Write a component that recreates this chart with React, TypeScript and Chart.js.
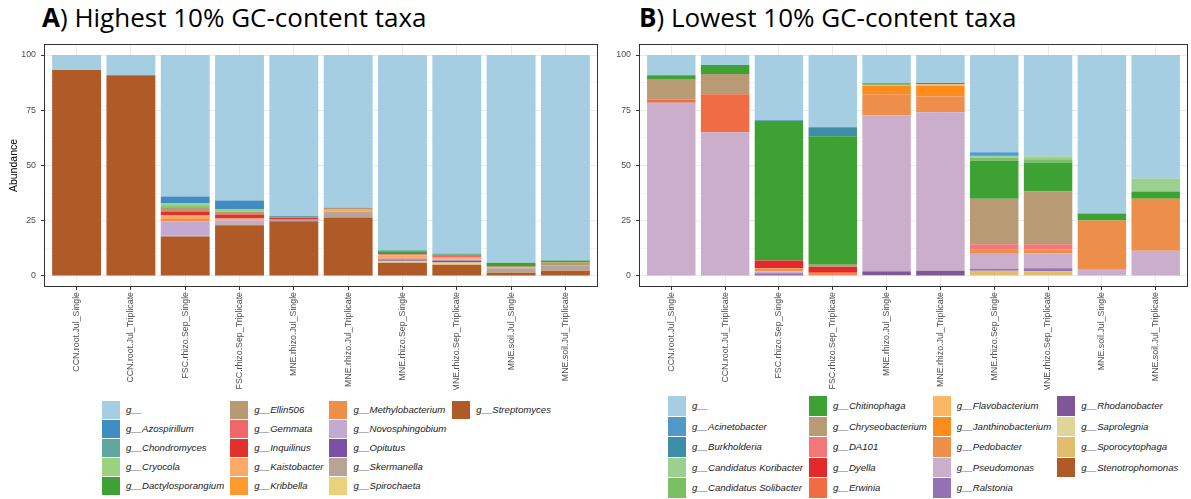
import React, { useEffect, useRef } from "react";
import { Chart, registerables } from "chart.js";

Chart.register(...registerables);

// ---------- shared categories / ticks ----------
const samples = [
  "CCN.root.Jul_Single",
  "CCN.root.Jul_Triplicate",
  "FSC.rhizo.Sep_Single",
  "FSC.rhizo.Sep_Triplicate",
  "MNE.rhizo.Jul_Single",
  "MNE.rhizo.Jul_Triplicate",
  "MNE.rhizo.Sep_Single",
  "MNE.rhizo.Sep_Triplicate",
  "MNE.soil.Jul_Single",
  "MNE.soil.Jul_Triplicate",
];
const yTickValues = [0, 12.5, 25, 37.5, 50, 62.5, 75, 87.5, 100];
const yTickLabels = ["0", "", "25", "", "50", "", "75", "", "100"];

// ---------- Panel A: highest GC-content taxa (legend order) ----------
const hiNames = [
  "g__", "g__Azospirillum", "g__Chondromyces", "g__Cryocola", "g__Dactylosporangium",
  "g__Ellin506", "g__Gemmata", "g__Inquilinus", "g__Kaistobacter", "g__Kribbella",
  "g__Methylobacterium", "g__Novosphingobium", "g__Opitutus", "g__Skermanella",
  "g__Spirochaeta", "g__Streptomyces",
];
const hiColors = [
  "#A6CEE3", "#3F8DC3", "#5FA79E", "#9AD37B", "#3DA233",
  "#B89A72", "#F0676A", "#E3302C", "#F9AA66", "#FE9A2C",
  "#EE8E49", "#C4A9D3", "#7B51A4", "#B8A497",
  "#E8D27A", "#B05A28",
];
const hiUnassigned = [6.8, 9.1, 64.0, 65.8, 72.9, 69.0, 88.4, 89.8, 94.0, 93.0];
const hiAzospirillum = [0, 0, 3.2, 4.1, 0, 0, 0, 0, 0, 0];
const hiChondromyces = [0, 0, 0, 0, 0.6, 0, 0.4, 0.6, 0, 0];
const hiCryocola = [0, 0, 1.4, 0.9, 0, 0, 0, 0, 0, 0];
const hiDactylosporangium = [0, 0, 0.4, 0, 0.3, 0, 1.4, 0.4, 1.5, 0.9];
const hiEllin506 = [0, 0, 1.8, 1.4, 0, 1.0, 0, 0, 0.6, 1.4];
const hiGemmata = [0, 0, 0, 0, 0, 0, 0.4, 0.6, 0, 0];
const hiInquilinus = [0, 0, 1.8, 1.8, 0.4, 0, 0, 0, 0, 0];
const hiKaistobacter = [0, 0, 1.2, 0.9, 0.3, 0.8, 1.0, 1.2, 0, 0];
const hiKribbella = [0, 0, 0.3, 0, 0, 0, 0, 0, 0, 0];
const hiMethylobacterium = [0, 0, 1.2, 0, 0, 0, 0.6, 0, 0, 0];
const hiNovosphingobium = [0, 0, 6.4, 1.7, 0, 0, 0.4, 0.4, 0.4, 0];
const hiOpitutus = [0, 0, 0, 0, 0.4, 0, 0.5, 0.9, 0, 0];
const hiSkermanella = [0, 0, 0.4, 0.4, 0.3, 2.7, 0.4, 0, 2.0, 2.3];
const hiSpirochaeta = [0, 0, 0, 0, 0, 0, 0.5, 1.0, 0, 0];
const hiStreptomyces = [93.2, 90.9, 17.9, 23.0, 24.8, 26.5, 6.0, 5.1, 1.5, 2.4];
const hiValues = [
  hiUnassigned, hiAzospirillum, hiChondromyces, hiCryocola, hiDactylosporangium,
  hiEllin506, hiGemmata, hiInquilinus, hiKaistobacter, hiKribbella,
  hiMethylobacterium, hiNovosphingobium, hiOpitutus, hiSkermanella,
  hiSpirochaeta, hiStreptomyces,
];

// ---------- Panel B: lowest GC-content taxa (legend order) ----------
const loNames = [
  "g__", "g__Acinetobacter", "g__Burkholderia", "g__Candidatus Koribacter", "g__Candidatus Solibacter",
  "g__Chitinophaga", "g__Chryseobacterium", "g__DA101", "g__Dyella", "g__Erwinia",
  "g__Flavobacterium", "g__Janthinobacterium", "g__Pedobacter", "g__Pseudomonas", "g__Ralstonia",
  "g__Rhodanobacter", "g__Saprolegnia", "g__Sporocytophaga", "g__Stenotrophomonas",
];
const loColors = [
  "#A6CEE3", "#519AC8", "#3D8DA8", "#9CD091", "#7AC062",
  "#3DA133", "#B89A74", "#F37779", "#E3292C", "#F06C45",
  "#FDB762", "#FE8C1C", "#ED8E4A", "#CBAECB", "#9570B5",
  "#7F5796", "#DFD597", "#E3BD6E", "#B05A28",
];
const loUnassigned = [9.1, 4.5, 29.5, 32.7, 12.8, 12.7, 44.0, 45.8, 71.7, 55.9];
const loAcinetobacter = [0, 0, 0, 0, 0, 0, 1.5, 0, 0, 0];
const loBurkholderia = [0, 0, 0.4, 4.1, 0, 0.5, 0.4, 0, 0, 0];
const loKoribacter = [0, 0, 0, 0, 0, 0, 0.6, 1.4, 0, 5.9];
const loSolibacter = [0, 0, 0, 0, 0, 0, 1.3, 1.4, 0, 0];
const loChitinophaga = [1.8, 4.1, 63.1, 58.1, 0.6, 0, 17.2, 13.2, 3.2, 3.2];
const loChryseobacterium = [9.2, 9.1, 0, 0.9, 0, 0, 20.7, 23.8, 0, 0];
const loDA101 = [0, 0, 0, 0, 0, 0, 2.4, 2.4, 0, 0];
const loDyella = [0, 0, 3.6, 2.7, 0, 0, 0, 0, 0, 0];
const loErwinia = [1.5, 17.2, 0, 0, 0, 0, 0, 0, 0, 0];
const loFlavobacterium = [0, 0, 0.3, 0, 0.6, 0.6, 0, 0, 0, 0];
const loJanthinobacterium = [0, 0, 0, 0, 3.8, 5.0, 0, 0, 0, 0];
const loPedobacter = [0, 0, 1.0, 1.5, 9.5, 7.1, 1.8, 1.8, 22.3, 23.6];
const loPseudomonas = [78.4, 65.1, 0.9, 0, 70.3, 71.7, 6.8, 6.7, 2.8, 11.4];
const loRalstonia = [0, 0, 1.2, 0, 0.4, 0, 0.9, 0.9, 0, 0];
const loRhodanobacter = [0, 0, 0, 0, 1.6, 2.0, 0, 0.5, 0, 0];
const loSaprolegnia = [0, 0, 0, 0, 0, 0, 0, 0, 0, 0];
const loSporocytophaga = [0, 0, 0, 0, 0.4, 0, 2.4, 2.1, 0, 0];
const loStenotrophomonas = [0, 0, 0, 0, 0, 0.4, 0, 0, 0, 0];
const loValues = [
  loUnassigned, loAcinetobacter, loBurkholderia, loKoribacter, loSolibacter,
  loChitinophaga, loChryseobacterium, loDA101, loDyella, loErwinia,
  loFlavobacterium, loJanthinobacterium, loPedobacter, loPseudomonas, loRalstonia,
  loRhodanobacter, loSaprolegnia, loSporocytophaga, loStenotrophomonas,
];

const AXIS_FONT = "'Liberation Sans', Arial, sans-serif";

const borderPlugin = {
  id: "panelBorder",
  afterDraw(chart: any) {
    const { ctx, chartArea: a } = chart;
    ctx.save();
    ctx.strokeStyle = "#333333";
    ctx.lineWidth = 1;
    ctx.strokeRect(Math.round(a.left) + 0.5, Math.round(a.top) + 0.5, Math.round(a.right - a.left) - 1, Math.round(a.bottom - a.top) - 1);
    ctx.restore();
  },
};

type PanelProps = {
  names: string[];
  colors: string[];
  values: number[][];
  left: number;
  width: number;
  yAxisWidth: number;
  padRight: number;
  showTitle: boolean;
};

const CANVAS_TOP = 39;
const CANVAS_H = 351;

function Panel({ names, colors, values, left, width, yAxisWidth, padRight, showTitle }: PanelProps) {
  const ref = useRef<HTMLCanvasElement | null>(null);
  useEffect(() => {
    if (!ref.current) return;
    const order = names.map((_, i) => i).reverse();
    const datasets = order.map((i) => ({
      label: names[i],
      data: values[i].map((v, k) => ({ x: k + 1, y: v })),
      backgroundColor: colors[i],
      borderWidth: 0,
      barPercentage: 0.9,
      categoryPercentage: 1,
    }));
    const chart = new Chart(ref.current, {
      type: "bar",
      data: { datasets } as any,
      options: {
        animation: false,
        responsive: false,
        devicePixelRatio: 1,
        layout: { padding: { left: 0, right: padRight, top: 5, bottom: 0 } },
        plugins: { legend: { display: false }, tooltip: { enabled: false } },
        scales: {
          x: {
            type: "linear",
            stacked: true,
            min: 0.4,
            max: 10.6,
            offset: false,
            afterBuildTicks: (ax: any) => {
              ax.ticks = samples.map((_, i) => ({ value: i + 1 }));
            },
            afterFit: (ax: any) => {
              ax.height = 103;
              ax.paddingLeft = 0;
              ax.paddingRight = 0;
            },
            ticks: {
              autoSkip: false,
              minRotation: 90,
              maxRotation: 90,
              padding: 2,
              color: "#4D4D4D",
              font: { family: AXIS_FONT, size: 8.8 },
              callback: (v: any) => samples[Math.round(Number(v)) - 1] ?? "",
            },
            grid: { offset: false, color: "#EBEBEB", lineWidth: 1, tickLength: 3, tickColor: "#333333" },
            border: { display: false },
          },
          y: {
            type: "linear",
            stacked: true,
            min: -5,
            max: 105,
            afterBuildTicks: (ax: any) => {
              ax.ticks = yTickValues.map((v) => ({ value: v }));
            },
            afterFit: (ax: any) => {
              ax.width = yAxisWidth;
              ax.paddingTop = 0;
              ax.paddingBottom = 0;
            },
            ticks: {
              padding: 5,
              color: "#4D4D4D",
              font: { family: AXIS_FONT, size: 8.8 },
              callback: (v: any) => {
                const idx = yTickValues.indexOf(Number(v));
                return idx >= 0 ? yTickLabels[idx] : "";
              },
            },
            grid: {
              color: "#EBEBEB",
              lineWidth: (c: any) => (c.tick && c.tick.value % 25 === 0 ? 1 : 0.6),
              tickLength: 3,
              tickColor: (c: any) => (c.tick && c.tick.value % 25 === 0 ? "#333333" : "rgba(0,0,0,0)"),
            },
            border: { display: false },
            title: {
              display: showTitle,
              text: "Abundance",
              color: "#000000",
              font: { family: AXIS_FONT, size: 10.5 },
              padding: { top: 8, bottom: 0 },
            },
          },
        },
      } as any,
      plugins: [borderPlugin],
    });
    return () => chart.destroy();
  }, []);
  return (
    <canvas
      ref={ref}
      width={width}
      height={CANVAS_H}
      style={{ position: "absolute", left, top: CANVAS_TOP, width, height: CANVAS_H }}
    />
  );
}

type LegendProps = { names: string[]; colors: string[]; left: number; top: number; row: number; sw: number };

function Legend({ names, colors, left, top, row, sw }: LegendProps) {
  return (
    <div
      style={{
        position: "absolute",
        left,
        top,
        display: "grid",
        gridTemplateRows: `repeat(5, ${row}px)`,
        gridAutoFlow: "column",
        columnGap: 6,
      }}
    >
      {names.map((n, i) => (
        <div key={n} style={{ display: "flex", alignItems: "flex-start", height: row }}>
          <div style={{ width: 18, height: sw, background: colors[i], flex: "none" }} />
          <div
            style={{
              marginLeft: 6,
              height: sw,
              lineHeight: `${sw}px`,
              fontFamily: AXIS_FONT,
              fontStyle: "italic",
              fontSize: 9.6,
              color: "#1A1A1A",
              whiteSpace: "nowrap",
            }}
          >
            {n}
          </div>
        </div>
      ))}
    </div>
  );
}

const titleStyle: React.CSSProperties = {
  position: "absolute",
  top: 4,
  fontFamily: "'Open Sans', sans-serif",
  fontSize: 26,
  lineHeight: "26px",
  color: "#000",
  whiteSpace: "nowrap",
};

export default function App() {
  return (
    <div style={{ position: "absolute", left: 0, top: 0, width: 1191, height: 499, background: "#fff", overflow: "hidden" }}>
      <div style={{ ...titleStyle, left: 42 }}>
        <b>A</b>) Highest 10% GC-content taxa
      </div>
      <div style={{ ...titleStyle, left: 639 }}>
        <b>B</b>) Lowest 10% GC-content taxa
      </div>
      <Panel names={hiNames} colors={hiColors} values={hiValues} left={0} width={600} yAxisWidth={44} padRight={2} showTitle={true} />
      <Panel names={loNames} colors={loColors} values={loValues} left={600} width={591} yAxisWidth={39} padRight={3} showTitle={false} />
      <Legend names={hiNames} colors={hiColors} left={102} top={401} row={19} sw={18} />
      <Legend names={loNames} colors={loColors} left={668} top={396} row={20.5} sw={19.5} />
    </div>
  );
}
